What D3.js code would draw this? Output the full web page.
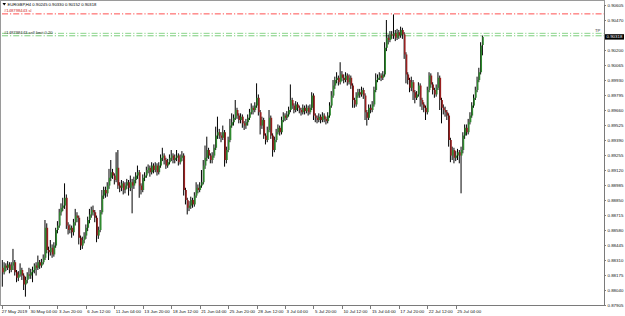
<!DOCTYPE html>
<html>
<head>
  <meta charset="utf-8">
  <title>EURGBP H4</title>
  <script src="https://cdnjs.cloudflare.com/ajax/libs/d3/7.8.5/d3.min.js"></script>
  <style>
    body { margin: 0; background: #fff; }
    svg { display: block; font-family: 'Liberation Sans', Arial, sans-serif; }
    .axis text { fill: #111; font-size: 4.4px; }
    .axis path, .axis line { stroke: #7a7a7a; shape-rendering: crispEdges; }
  </style>
</head>
<body>
<script>
// EURGBP H4 bars, 27 May 16:00 -> 29 Jul 16:00 (one value per bar)
var opens = [0.8824,0.8820,0.8826,0.8824,0.8827,0.8822,0.8826,0.8829,0.8820,0.8815,
  0.8818,0.8822,0.8817,0.8809,0.8813,0.8818,0.8817,0.8820,0.8822,0.8826,
  0.8824,0.8829,0.8826,0.8829,0.8833,0.8860,0.8840,0.8838,0.8842,0.8836,
  0.8844,0.8858,0.8862,0.8874,0.8878,0.8880,0.8887,0.8862,0.8858,0.8860,
  0.8856,0.8865,0.8871,0.8869,0.8851,0.8844,0.8849,0.8853,0.8860,0.8867,
  0.8872,0.8876,0.8874,0.8869,0.8853,0.8858,0.8874,0.8889,0.8894,0.8891,
  0.8898,0.8905,0.8910,0.8907,0.8903,0.8914,0.8898,0.8896,0.8900,0.8894,
  0.8898,0.8901,0.8896,0.8901,0.8898,0.8903,0.8907,0.8910,0.8898,0.8894,
  0.8905,0.8907,0.8912,0.8914,0.8910,0.8916,0.8912,0.8916,0.8910,0.8916,
  0.8923,0.8925,0.8921,0.8916,0.8919,0.8923,0.8925,0.8921,0.8923,0.8925,
  0.8919,0.8923,0.8925,0.8894,0.8885,0.8878,0.8880,0.8885,0.8881,0.8889,
  0.8896,0.8894,0.8898,0.8901,0.8916,0.8923,0.8930,0.8925,0.8921,0.8925,
  0.8932,0.8943,0.8946,0.8943,0.8941,0.8946,0.8921,0.8930,0.8939,0.8952,
  0.8955,0.8959,0.8966,0.8961,0.8957,0.8960,0.8954,0.8952,0.8955,0.8959,
  0.8964,0.8968,0.8966,0.8970,0.8977,0.8964,0.8952,0.8957,0.8943,0.8939,
  0.8948,0.8959,0.8943,0.8930,0.8939,0.8946,0.8950,0.8946,0.8957,0.8961,
  0.8959,0.8962,0.8966,0.8975,0.8970,0.8966,0.8971,0.8968,0.8966,0.8964,
  0.8968,0.8965,0.8968,0.8964,0.8968,0.8979,0.8961,0.8959,0.8957,0.8960,
  0.8957,0.8961,0.8958,0.8956,0.8961,0.8970,0.8979,0.8988,0.8993,0.8995,
  0.8991,0.8998,0.8995,0.8993,0.8997,0.8991,0.8995,0.8988,0.8975,0.8971,
  0.8979,0.8982,0.8980,0.8984,0.8979,0.8964,0.8959,0.8968,0.8966,0.8971,
  0.8984,0.8993,0.8995,0.8997,0.8995,0.8998,0.9022,0.9031,0.9029,0.9034,
  0.9033,0.9035,0.9031,0.9036,0.9033,0.9038,0.9034,0.9016,0.8998,0.8993,
  0.8986,0.8991,0.8982,0.8977,0.8980,0.8988,0.8975,0.8971,0.8968,0.8964,
  0.8984,0.8997,0.8989,0.8984,0.8980,0.8986,0.8995,0.8975,0.8968,0.8966,
  0.8964,0.8961,0.8939,0.8925,0.8930,0.8923,0.8925,0.8928,0.8925,0.8930,
  0.8943,0.8950,0.8946,0.8955,0.8961,0.8970,0.8977,0.8984,0.8993,0.9000,
  0.90245];

var highs = [0.8831,0.8829,0.8828,0.8830,0.8829,0.8829,0.8841,0.8831,0.8822,0.8821,
  0.8828,0.8824,0.8819,0.8816,0.8820,0.8824,0.8823,0.8825,0.8828,0.8829,
  0.8835,0.8831,0.8832,0.8836,0.8867,0.8864,0.8843,0.8849,0.8845,0.8847,
  0.8860,0.8866,0.8877,0.8882,0.8887,0.8900,0.8890,0.8865,0.8863,0.8862,
  0.8868,0.8877,0.8874,0.8871,0.8853,0.8852,0.8856,0.8863,0.8870,0.8877,
  0.8879,0.8880,0.8876,0.8871,0.8861,0.8876,0.8894,0.8897,0.8897,0.8901,
  0.8913,0.8921,0.8913,0.8909,0.8928,0.8930,0.8901,0.8903,0.8902,0.8901,
  0.8904,0.8903,0.8907,0.8904,0.8906,0.8910,0.8916,0.8912,0.8900,0.8908,
  0.8910,0.8915,0.8917,0.8916,0.8919,0.8918,0.8919,0.8918,0.8919,0.8926,
  0.8932,0.8927,0.8923,0.8922,0.8926,0.8930,0.8927,0.8926,0.8930,0.8927,
  0.8926,0.8929,0.8927,0.8896,0.8887,0.8884,0.8888,0.8887,0.8892,0.8901,
  0.8899,0.8901,0.8912,0.8921,0.8934,0.8942,0.8932,0.8927,0.8928,0.8935,
  0.8951,0.8960,0.8949,0.8946,0.8952,0.8948,0.8933,0.8942,0.8958,0.8963,
  0.8962,0.8975,0.8968,0.8963,0.8963,0.8962,0.8956,0.8958,0.8962,0.8967,
  0.8972,0.8970,0.8973,0.8990,0.8980,0.8966,0.8960,0.8959,0.8945,0.8951,
  0.8966,0.8961,0.8945,0.8942,0.8949,0.8953,0.8952,0.8960,0.8964,0.8963,
  0.8965,0.8969,0.8989,0.8977,0.8972,0.8974,0.8973,0.8970,0.8968,0.8971,
  0.8970,0.8971,0.8970,0.8971,0.8982,0.8981,0.8963,0.8961,0.8963,0.8962,
  0.8964,0.8963,0.8960,0.8964,0.8973,0.8983,0.8993,0.8996,0.9000,0.8997,
  0.9009,0.9001,0.8998,0.9000,0.8999,0.8998,0.8997,0.8990,0.8977,0.8982,
  0.8985,0.8985,0.8987,0.8986,0.8981,0.8966,0.8971,0.8971,0.8974,0.8987,
  0.8999,0.8998,0.9000,0.8999,0.9001,0.9027,0.9047,0.9034,0.9037,0.9037,
  0.9052,0.9038,0.9039,0.9038,0.9041,0.9040,0.9036,0.9018,0.9000,0.8995,
  0.8996,0.8993,0.8984,0.8983,0.8991,0.8990,0.8977,0.8973,0.8970,0.8987,
  0.9000,0.8999,0.8991,0.8986,0.8989,0.9000,0.8997,0.8977,0.8971,0.8969,
  0.8966,0.8963,0.8941,0.8933,0.8932,0.8929,0.8931,0.8930,0.8933,0.8946,
  0.8953,0.8953,0.8958,0.8964,0.8973,0.8980,0.8987,0.8996,0.9004,0.9027,
  0.90330];

var lows = [0.8807,0.8818,0.8821,0.8822,0.8819,0.8820,0.8822,0.8817,0.8811,0.8812,
  0.8816,0.8813,0.8804,0.8798,0.8810,0.8814,0.8814,0.8811,0.8819,0.8817,
  0.8822,0.8823,0.8824,0.8827,0.8831,0.8837,0.8831,0.8835,0.8833,0.8834,
  0.8842,0.8855,0.8860,0.8871,0.8875,0.8877,0.8859,0.8854,0.8855,0.8851,
  0.8853,0.8862,0.8865,0.8845,0.8840,0.8841,0.8846,0.8850,0.8857,0.8864,
  0.8869,0.8871,0.8865,0.8847,0.8850,0.8856,0.8872,0.8886,0.8887,0.8888,
  0.8895,0.8902,0.8904,0.8899,0.8901,0.8895,0.8892,0.8893,0.8890,0.8891,
  0.8895,0.8889,0.8893,0.8873,0.8895,0.8900,0.8904,0.8887,0.8890,0.8892,
  0.8902,0.8905,0.8909,0.8906,0.8908,0.8909,0.8910,0.8907,0.8908,0.8914,
  0.8920,0.8917,0.8913,0.8914,0.8917,0.8920,0.8918,0.8918,0.8920,0.8916,
  0.8917,0.8920,0.8889,0.8881,0.8872,0.8875,0.8877,0.8878,0.8879,0.8887,
  0.8891,0.8892,0.8896,0.8899,0.8913,0.8920,0.8922,0.8918,0.8918,0.8923,
  0.8930,0.8940,0.8940,0.8937,0.8939,0.8915,0.8918,0.8928,0.8937,0.8950,
  0.8952,0.8957,0.8958,0.8954,0.8954,0.8950,0.8948,0.8949,0.8952,0.8957,
  0.8962,0.8962,0.8964,0.8968,0.8961,0.8944,0.8949,0.8940,0.8935,0.8937,
  0.8946,0.8940,0.8924,0.8928,0.8937,0.8944,0.8943,0.8944,0.8955,0.8956,
  0.8957,0.8960,0.8964,0.8967,0.8963,0.8964,0.8965,0.8963,0.8961,0.8962,
  0.8962,0.8963,0.8961,0.8962,0.8966,0.8957,0.8955,0.8954,0.8955,0.8954,
  0.8955,0.8955,0.8953,0.8954,0.8959,0.8968,0.8977,0.8985,0.8990,0.8988,
  0.8989,0.8992,0.8990,0.8991,0.8988,0.8989,0.8985,0.8968,0.8968,0.8969,
  0.8977,0.8977,0.8978,0.8976,0.8957,0.8952,0.8957,0.8963,0.8964,0.8969,
  0.8982,0.8991,0.8993,0.8992,0.8993,0.8996,0.9019,0.9025,0.9027,0.9030,
  0.9030,0.9028,0.9029,0.9030,0.9031,0.9030,0.9012,0.8990,0.8989,0.8982,
  0.8983,0.8975,0.8972,0.8975,0.8978,0.8969,0.8966,0.8964,0.8957,0.8962,
  0.8982,0.8986,0.8980,0.8977,0.8978,0.8984,0.8966,0.8954,0.8962,0.8960,
  0.8957,0.8933,0.8919,0.8921,0.8918,0.8920,0.8921,0.8918,0.8891,0.8927,
  0.8940,0.8943,0.8944,0.8953,0.8959,0.8968,0.8975,0.8982,0.8991,0.8998,
  0.90152];

var closes = [0.8820,0.8826,0.8824,0.8827,0.8822,0.8826,0.8829,0.8820,0.8815,0.8818,
  0.8822,0.8817,0.8809,0.8813,0.8818,0.8817,0.8820,0.8822,0.8826,0.8824,
  0.8829,0.8826,0.8829,0.8833,0.8860,0.8840,0.8838,0.8842,0.8836,0.8844,
  0.8858,0.8862,0.8874,0.8878,0.8880,0.8887,0.8862,0.8858,0.8860,0.8856,
  0.8865,0.8871,0.8869,0.8851,0.8844,0.8849,0.8853,0.8860,0.8867,0.8872,
  0.8876,0.8874,0.8869,0.8853,0.8858,0.8874,0.8889,0.8894,0.8891,0.8898,
  0.8905,0.8910,0.8907,0.8903,0.8914,0.8898,0.8896,0.8900,0.8894,0.8898,
  0.8901,0.8896,0.8901,0.8898,0.8903,0.8907,0.8910,0.8898,0.8894,0.8905,
  0.8907,0.8912,0.8914,0.8910,0.8916,0.8912,0.8916,0.8910,0.8916,0.8923,
  0.8925,0.8921,0.8916,0.8919,0.8923,0.8925,0.8921,0.8923,0.8925,0.8919,
  0.8923,0.8925,0.8894,0.8885,0.8878,0.8880,0.8885,0.8881,0.8889,0.8896,
  0.8894,0.8898,0.8901,0.8916,0.8923,0.8930,0.8925,0.8921,0.8925,0.8932,
  0.8943,0.8946,0.8943,0.8941,0.8946,0.8921,0.8930,0.8939,0.8952,0.8955,
  0.8959,0.8966,0.8961,0.8957,0.8960,0.8954,0.8952,0.8955,0.8959,0.8964,
  0.8968,0.8966,0.8970,0.8977,0.8964,0.8952,0.8957,0.8943,0.8939,0.8948,
  0.8959,0.8943,0.8930,0.8939,0.8946,0.8950,0.8946,0.8957,0.8961,0.8959,
  0.8962,0.8966,0.8975,0.8970,0.8966,0.8971,0.8968,0.8966,0.8964,0.8968,
  0.8965,0.8968,0.8964,0.8968,0.8979,0.8961,0.8959,0.8957,0.8960,0.8957,
  0.8961,0.8958,0.8956,0.8961,0.8970,0.8979,0.8988,0.8993,0.8995,0.8991,
  0.8998,0.8995,0.8993,0.8997,0.8991,0.8995,0.8988,0.8975,0.8971,0.8979,
  0.8982,0.8980,0.8984,0.8979,0.8964,0.8959,0.8968,0.8966,0.8971,0.8984,
  0.8993,0.8995,0.8997,0.8995,0.8998,0.9022,0.9031,0.9029,0.9034,0.9033,
  0.9035,0.9031,0.9036,0.9033,0.9038,0.9034,0.9016,0.8998,0.8993,0.8986,
  0.8991,0.8982,0.8977,0.8980,0.8988,0.8975,0.8971,0.8968,0.8964,0.8984,
  0.8997,0.8989,0.8984,0.8980,0.8986,0.8995,0.8975,0.8968,0.8966,0.8964,
  0.8961,0.8939,0.8925,0.8930,0.8923,0.8925,0.8928,0.8925,0.8930,0.8943,
  0.8950,0.8946,0.8955,0.8961,0.8970,0.8977,0.8984,0.8993,0.9000,0.9024,
  0.90318];

// right price scale labels
var priceTicks = [0.90605,0.90470,0.90335,0.90200,0.90065,0.89930,0.89795,0.89660,
  0.89525,0.89390,0.89255,0.89120,0.88985,0.88850,0.88715,0.88580,0.88445,
  0.88310,0.88175,0.88040,0.87905];

// bottom time labels and the bar each one sits on
var timeLabels = ['27 May 2019','30 May 04:00','3 Jun 20:00','6 Jun 12:00','11 Jun 04:00',
  '13 Jun 20:00','18 Jun 12:00','21 Jun 04:00','25 Jun 20:00','28 Jun 12:00','3 Jul 04:00',
  '5 Jul 20:00','10 Jul 12:00','15 Jul 04:00','17 Jul 20:00','22 Jul 12:00','25 Jul 04:00'];
var timeBars = [0,15,31,47,63,79,95,111,127,143,159,175,191,207,223,239,255];

// order lines
var orderLines = [
  {price: 0.90525, color: '#ff3b3b', label: '#148798443 sl', labelColor: '#d02020'},
  {price: 0.90350, color: '#7fd07f', label: '', labelColor: '#000'},
  {price: 0.90328, color: '#6cc86c', label: '#148798443 sell limit 0.20', labelColor: '#333'}
];

var w = 625, h = 316;
var plotR = 604, plotB = 305.5;

var svg = d3.select('body')
            .append('svg')
              .attr('width', w)
              .attr('height', h);

var x = d3.scaleLinear().domain([0, closes.length - 1]).range([2.3, 482.4]);
var y = d3.scaleLinear().domain([0.87905, 0.90605]).range([305, 5]);

// chart frame
svg.append('rect')
   .attr('x', 0.5).attr('y', 0.5)
   .attr('width', plotR - 0.5).attr('height', plotB - 0.5)
   .attr('fill', 'none')
   .attr('stroke', '#9a9a9a')
   .attr('shape-rendering', 'crispEdges');

// order lines (dash-dot)
svg.selectAll('.order')
   .data(orderLines)
   .enter()
   .append('line')
     .attr('x1', 2).attr('x2', plotR)
     .attr('y1', function(d) { return y(d.price) })
     .attr('y2', function(d) { return y(d.price) })
     .attr('stroke', function(d) { return d.color })
     .attr('stroke-width', 0.9)
     .attr('stroke-dasharray', '6,2,1.2,2');

svg.selectAll('.orderlabel')
   .data(orderLines.filter(function(d) { return d.label }))
   .enter()
   .append('text')
     .attr('x', 4)
     .attr('y', function(d) { return y(d.price) - 2 })
     .attr('font-size', 4.2)
     .attr('fill', function(d) { return d.labelColor })
     .text(function(d) { return d.label });

svg.append('text')
   .attr('x', 595).attr('y', y(0.90350) - 1.2)
   .attr('font-size', 4.2)
   .attr('fill', '#333')
   .text('TP');

// candles
var bars = d3.range(closes.length).map(function(i) {
  return {i: i, o: opens[i], h: highs[i], l: lows[i], c: closes[i]};
});

svg.selectAll('.wick')
   .data(bars)
   .enter()
   .append('line')
     .attr('x1', function(d) { return x(d.i) })
     .attr('x2', function(d) { return x(d.i) })
     .attr('y1', function(d) { return y(Math.max(d.h, d.o, d.c)) })
     .attr('y2', function(d) { return y(Math.min(d.l, d.o, d.c)) })
     .attr('stroke', '#000')
     .attr('stroke-width', 1);

svg.selectAll('.body')
   .data(bars)
   .enter()
   .append('rect')
     .attr('x', function(d) { return x(d.i) - 0.1 })
     .attr('width', 1.5)
     .attr('y', function(d) { return y(Math.max(d.o, d.c)) })
     .attr('height', function(d) { return Math.max(0.8, Math.abs(y(d.o) - y(d.c))) })
     .attr('fill', function(d) { return d.c >= d.o ? '#2f8a2f' : '#9a1f1f' });

// price axis on the right
var last = closes[closes.length - 1];
var yAxis = d3.axisRight(y)
  .tickValues(priceTicks.filter(function(v) { return Math.abs(y(v) - y(last)) > 4 }))
  .tickSize(2)
  .tickPadding(1.5)
  .tickFormat(d3.format('.5f'));

svg.append('g')
   .attr('class', 'axis')
   .attr('transform', 'translate(' + plotR + ',0)')
   .call(yAxis);

// current price box
svg.append('rect')
   .attr('x', plotR + 1).attr('y', y(last) - 2.7)
   .attr('width', 19).attr('height', 5.4)
   .attr('fill', '#000');
svg.append('text')
   .attr('x', plotR + 2.5).attr('y', y(last) + 1.5)
   .attr('font-size', 4.4)
   .attr('fill', '#fff')
   .text(d3.format('.5f')(last));

// time axis along the bottom
var xAxis = d3.axisBottom(x)
  .tickValues(timeBars)
  .tickSize(3)
  .tickPadding(1)
  .tickFormat(function(d, k) { return timeLabels[k] });

var gx = svg.append('g')
   .attr('class', 'axis')
   .attr('transform', 'translate(0,' + plotB + ')')
   .call(xAxis);
gx.select('.domain').attr('d', 'M0.5,0H' + plotR);
gx.selectAll('text')
  .attr('text-anchor', 'start')
  .attr('x', 1);
gx.select('.tick:first-of-type text').attr('x', -1);

// header with symbol and OHLC
svg.append('path')
   .attr('d', 'M2.5,3 L6,3 L4.25,5.5 Z')
   .attr('fill', '#000');
svg.append('text')
   .attr('x', 7.5).attr('y', 6)
   .attr('font-size', 4.2)
   .attr('fill', '#000')
   .text('EURGBP,H4  0.90245 0.90330 0.90152 0.90318');
</script>
</body>
</html>
